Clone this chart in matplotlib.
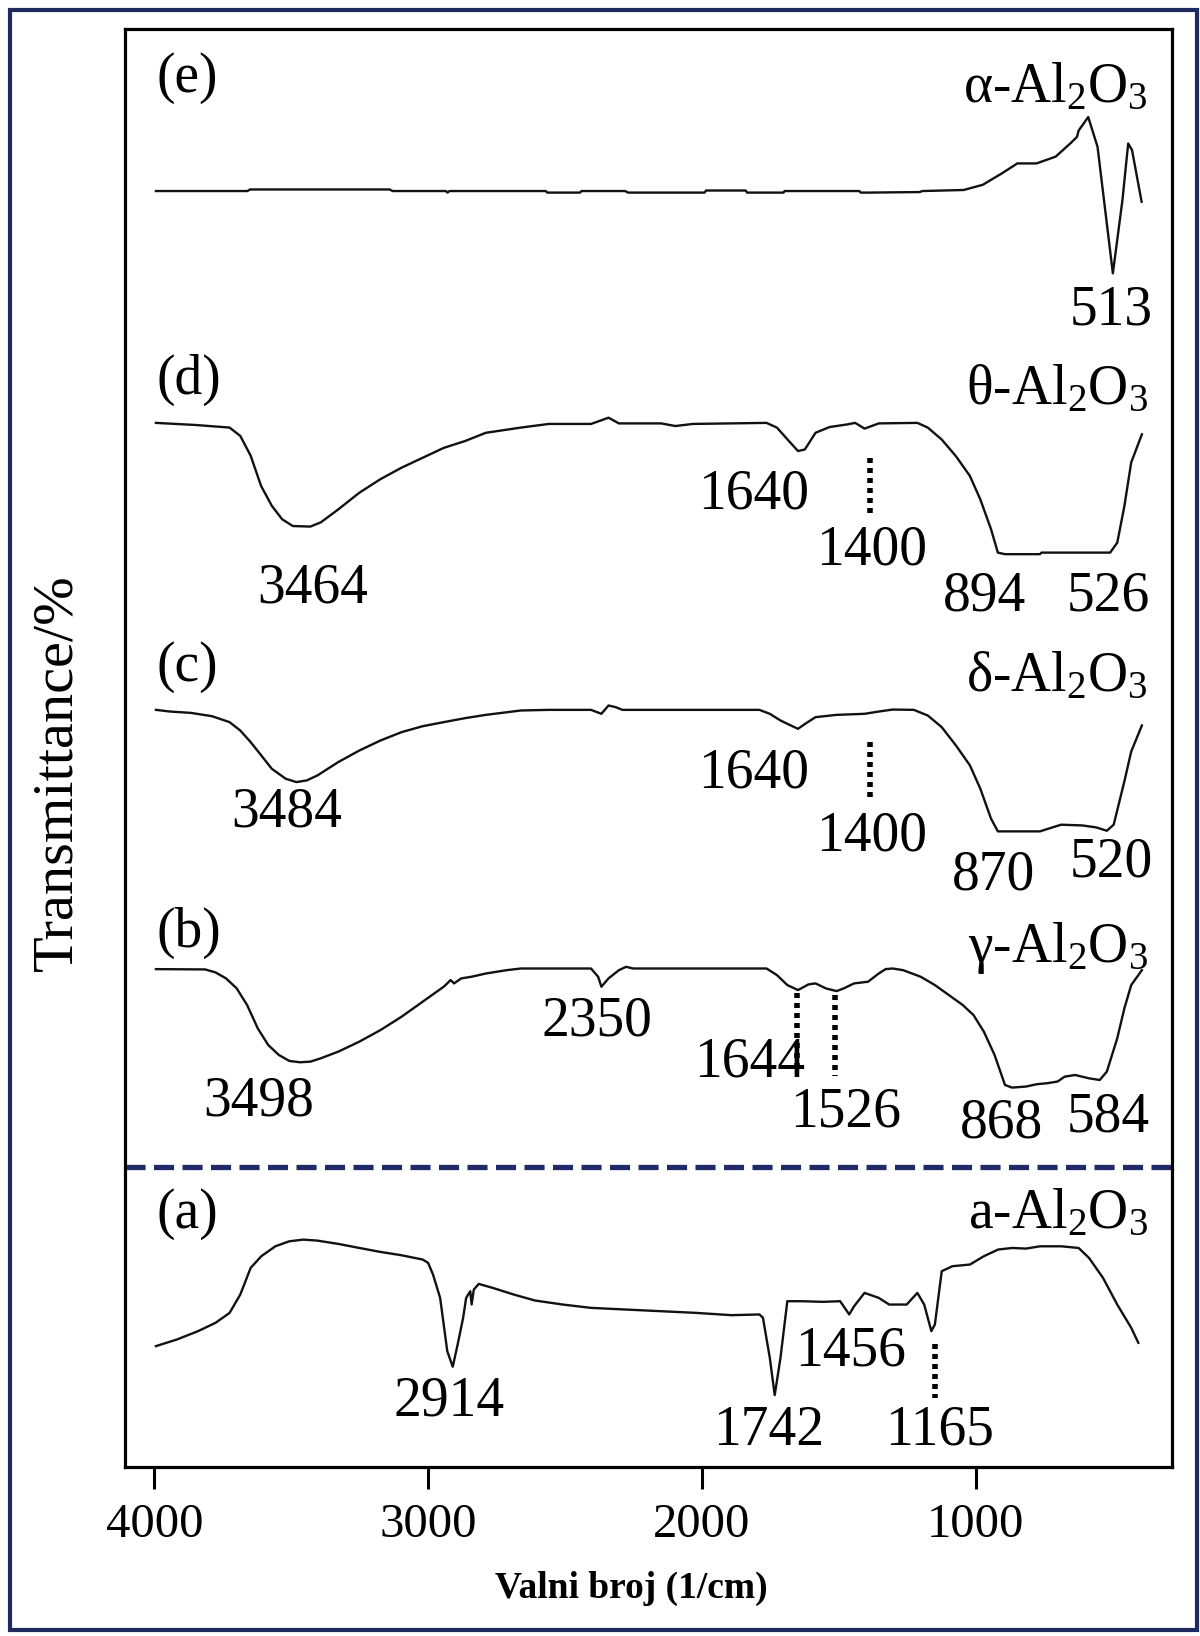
import matplotlib
matplotlib.use('Agg')
import matplotlib.pyplot as plt
from matplotlib.patches import Rectangle

plt.rcParams['font.family'] = ['Liberation Serif', 'DejaVu Serif']
plt.rcParams['mathtext.fontset'] = 'custom'
plt.rcParams['mathtext.rm'] = 'Liberation Serif'
plt.rcParams['mathtext.it'] = 'Liberation Serif:italic'

# ---------------- data (wavenumber, relative transmittance) ----------------
wn_e = [3994, 3660, 3650, 3140, 3130, 2935, 2929, 2922, 2570, 2565, 2445, 2440,
        2280, 2270, 1990, 1985, 1840, 1835, 1702, 1698, 1425, 1420, 1395, 1205,
        1195, 1044, 974, 904, 848, 778, 708, 653, 630, 624, 589, 555, 499, 464,
        443, 429, 394]
t_e = [0, 0, 1.5, 1.5, 0, 0, -1.5, 0, 0, -1.5, -1.5, 0,
       0, -1.5, -1.5, 0.5, 0.5, -1.5, -1.5, 0, 0, -1.5, -1.5, -1,
       0, 1, 6, 17, 26.5, 26.5, 33, 46, 52, 58, 71, 42.5, -79, -8.7,
       45.6, 39.3, -10.3]

wn_d = [3994, 3850, 3725, 3686, 3648, 3610, 3571, 3533, 3494, 3430, 3392, 3328,
        3251, 3174, 3097, 3020, 2943, 2866, 2789, 2661, 2559, 2405, 2367, 2341,
        2303, 2149, 2097, 2033, 1764, 1726, 1687, 1649, 1624, 1585, 1534, 1470,
        1440, 1406, 1354, 1213, 1175, 1124, 1072, 1021, 983, 944, 919, 893, 765,
        760, 509, 483, 457, 432, 393]
t_d = [0, -2, -4.5, -12.5, -31.5, -60.5, -79.5, -92.5, -99, -99.5, -95.5, -83,
       -67, -54, -43, -33.5, -24, -17.5, -9.5, -4.5, -1, -1, 2.5, 5,
       -0.5, -0.5, -3, -1, 0, -4.5, -16, -27, -25.5, -9.5, -4, -1.5,
       0, -5.5, -0.5, 0, -4.5, -16, -32, -51, -73.5, -102, -124.5, -126, -126,
       -124.5, -124.5, -115, -80, -38, -11]

wn_c = [3994, 3943, 3866, 3789, 3725, 3686, 3648, 3609, 3571, 3520, 3481, 3443,
        3404, 3328, 3251, 3174, 3097, 3020, 2943, 2866, 2789, 2661, 2559, 2405,
        2367, 2341, 2315, 2290, 1790, 1752, 1713, 1675, 1649, 1623, 1585, 1508,
        1406, 1354, 1303, 1226, 1175, 1124, 1072, 1021, 983, 944, 919, 765, 727,
        688, 611, 560, 521, 496, 457, 432, 393]
t_c = [0, -1.6, -2.9, -6.1, -11.8, -19.8, -31, -43.8, -56.5, -66.1, -69.3, -67.7,
       -62.9, -50.1, -39, -29.4, -21.4, -15.7, -11.8, -8, -4.8, -0.6, 0, 0,
       -3.8, 4.2, 2.6, 0, 0, -3.8, -10.2, -15, -18.2, -13.4, -7, -4.8,
       -3.8, -1.6, 0.3, 0, -5.4, -16.6, -34.2, -53.3, -75.7, -104.4, -116.6, -116.6, -113.4,
       -110.2, -110.9, -112.8, -116, -110.2, -68.7, -40, -15]

wn_b = [3994, 3814, 3776, 3738, 3699, 3661, 3622, 3584, 3545, 3507, 3468, 3430,
        3392, 3328, 3251, 3174, 3097, 3020, 2943, 2930, 2918, 2905, 2879, 2841,
        2789, 2713, 2661, 2405, 2379, 2367, 2341, 2303, 2277, 2251, 1764, 1726,
        1688, 1649, 1611, 1585, 1547, 1508, 1482, 1444, 1393, 1354, 1329, 1303,
        1265, 1201, 1149, 1098, 1047, 1008, 970, 931, 893, 867, 816, 778, 739,
        701, 675, 637, 586, 547, 521, 483, 457, 432, 393]
t_b = [0, -0.3, -3.2, -8.9, -18.5, -34.5, -56.9, -72.8, -82.4, -88.1, -89.4, -88.8,
       -85.6, -79.2, -69.6, -58.5, -45.7, -31.3, -16.9, -13.7, -10.5, -13.7, -8.9, -7.3,
       -4.2, -1, 0.6, 0.6, -7.3, -16.9, -8.9, -1, 2.2, 0.6, 0.6, -5.7,
       -15.3, -20.1, -14.7, -13.7, -18.5, -21.1, -18.5, -13.7, -12.1, -4.2, 0, 0.6,
       -1, -7.3, -15.3, -24.9, -34.5, -44.1, -60.1, -82.4, -111.2, -113.7, -112.7, -110.5, -109.5,
       -107.9, -103.2, -101.6, -104.8, -106.4, -98.4, -66.4, -37.7, -15.3, -1]

wn_a = [3994, 3917, 3840, 3776, 3725, 3686, 3648, 3609, 3558, 3507, 3456, 3405,
        3328, 3251, 3174, 3097, 3020, 3000, 2982, 2956, 2930, 2910, 2892, 2872,
        2861, 2846, 2841, 2833, 2815, 2764, 2687, 2610, 2508, 2405, 2277, 2149,
        2021, 1892, 1790, 1777, 1752, 1734, 1713, 1688, 1636, 1559, 1495, 1462,
        1444, 1406, 1354, 1316, 1252, 1213, 1188, 1162, 1149, 1124, 1085, 1021,
        970, 918, 867, 816, 765, 688, 624, 586, 535, 483, 432, 406]
t_a = [0, 6.4, 14.4, 22.4, 31.9, 49.5, 75.1, 86.3, 95.8, 100.6, 102.2, 101.3,
       98.1, 94.2, 90.4, 87.2, 83.1, 79.9, 68.7, 46.3, -4.8, -19.8, 1.6, 27.2,
       46.3, 52.7, 40, 54.3, 59.7, 55.9, 49.5, 43.8, 39.9, 36.7, 35.1, 33.5,
       31.9, 29.7, 30.4, 27.2, -11.2, -47, -11.2, 43.1, 43.1, 42.5, 43.1, 30.4,
       38.3, 51.1, 46.3, 39.9, 39.9, 51.1, 39.9, 14.4, 20.8, 71.9, 76.7, 78.3,
       86.3, 92.7, 94.2, 93.6, 95.8, 95.8, 94.2, 84.6, 65.5, 39.9, 17.6, 3.2]

panel_letters = ['(e)', '(d)', '(c)', '(b)', '(a)']
phase_names = [r'α-Al$_\mathrm{2}$O$_\mathrm{3}$', r'θ-Al$_\mathrm{2}$O$_\mathrm{3}$',
               r'δ-Al$_\mathrm{2}$O$_\mathrm{3}$', r'γ-Al$_\mathrm{2}$O$_\mathrm{3}$',
               r'a-Al$_\mathrm{2}$O$_\mathrm{3}$']
x_ticks = [4000, 3000, 2000, 1000]

# ---------------- layout ----------------
W, H, DPI = 1200, 1636, 100
fig = plt.figure(figsize=(W / DPI, H / DPI), dpi=DPI)
fig.patch.set_facecolor('white')

ax = fig.add_axes([125 / W, 1 - 1467 / H, 1047 / W, 1438 / H])
ax.set_xlim(4107, 283)
ax.set_ylim(0, 1380)

series = [(wn_e, t_e), (wn_d, t_d), (wn_c, t_c), (wn_b, t_b), (wn_a, t_a)]
offsets = [1224.5, 1002, 726.6, 477.8, 116]
label_y = [1333, 1043, 768, 513, 243]
name_y = [1323, 1033, 758, 498, 243]

for (x, t), off, ly, ny, let, nm in zip(series, offsets, label_y, name_y,
                                         panel_letters, phase_names):
    ax.plot(x, [v + off for v in t], color='#111111', lw=1.7, solid_joinstyle='round')
    ax.text(3992, ly, let, fontsize=40, ha='left', va='center')
    ax.text(371, ny, nm, fontsize=40, ha='right', va='center')

# peak annotations: (text, wn, y)
annots = [('513', 504, 1110),
          ('3464', 3420, 843), ('1640', 1812, 933), ('1400', 1381, 880),
          ('894', 969, 835), ('526', 516, 835),
          ('3484', 3516, 628), ('1640', 1812, 666), ('1400', 1381, 605),
          ('870', 935, 568), ('520', 504, 580),
          ('3498', 3619, 351), ('2350', 2384, 428), ('1644', 1827, 388),
          ('1526', 1476, 340), ('868', 905, 330), ('584', 516, 335),
          ('2914', 2925, 63), ('1742', 1755, 35), ('1456', 1457, 111),
          ('1165', 1133, 35)]
for s, xx, yy in annots:
    ax.text(xx, yy, s, fontsize=40, ha='center', va='center')

# dotted marker lines: (wn, y_top, y_bottom)
dots = [(1385, 968, 914), (1385, 696, 640), (1654, 455, 378), (1513, 453, 375),
        (1149, 118, 66)]
for xx, y1, y2 in dots:
    ax.plot([xx, xx], [y1, y2], color='black', lw=4, linestyle=(0, (0.9, 0.9)),
            dash_capstyle='butt')

# dashed separator
ax.plot([0, 1.006], [288 / 1380, 288 / 1380], transform=ax.transAxes,
        color='#1f2a66', lw=3.8, linestyle=(0, (3.8, 1.6)), clip_on=False)

# axes styling
for sp in ax.spines.values():
    sp.set_linewidth(2.3)
    sp.set_color('black')
ax.set_yticks([])
ax.set_xticks(x_ticks)
ax.set_xticklabels([str(v) for v in x_ticks])
ax.tick_params(axis='x', direction='out', length=16, width=2.2, pad=10,
               labelsize=35)

fig.text(57 / W, 1 - 773 / H, 'Transmittance/%', rotation=90, fontsize=42,
         ha='center', va='center')
fig.text(631 / W, 1 - 1588 / H, 'Valni broj (1/cm)', fontsize=27,
         fontweight='bold', ha='center', va='center')

# outer navy border
fig.patches.append(Rectangle((10 / W, 6 / H), 1187 / W, 1620 / H,
                             transform=fig.transFigure, fill=False,
                             edgecolor='#1f2a5e', lw=3))

fig.savefig('out.png', dpi=DPI)
